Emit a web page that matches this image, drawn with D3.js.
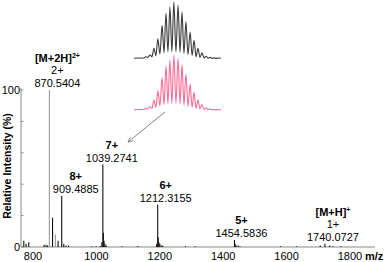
<!DOCTYPE html>
<html>
<head>
<meta charset="utf-8">
<script src="https://cdn.jsdelivr.net/npm/d3@7"></script>
<style>
  body { margin: 0; background: #fff; }
  svg { display: block; font-family: "Liberation Sans", Arial, sans-serif; }
</style>
</head>
<body>
<div id="d3"></div>
<script>
// stick spectrum (m/z, relative intensity %)
const peak_mz = [789.8, 797.0, 805.6, 853.8, 860.1, 864.9, 870.54, 880.5, 889.5, 898.0, 909.49, 916.0, 923.0, 931.0,
    1005.0, 1018.0, 1031.0, 1036.0, 1039.27, 1041.0, 1043.0, 1046.0, 1050.0, 1100.0, 1150.0,
    1209.0, 1212.32, 1214.0, 1216.0, 1219.0, 1223.0, 1228.0, 1300.0, 1330.0,
    1454.58, 1456.5, 1460.0, 1466.0, 1472.0, 1600.0, 1650.0, 1725.0, 1740.07, 1755.0, 1765.0, 1790.0];
const peak_int = [4, 2, 3, 1.5, 1.5, 1, 100, 18.7, 8, 4, 32.5, 2, 1, 1,
    0.5, 0.5, 0.7, 3, 52.5, 9, 4, 2, 1, 0.5, 0.7,
    2, 27, 6, 3, 2, 1, 1, 0.5, 0.5,
    4.5, 2, 1, 1, 0.5, 0.5, 0.5, 1, 2, 1, 0.5, 0.5];

// annotated ions
const ion_mz = [870.5404, 909.4885, 1039.2741, 1212.3155, 1454.5836, 1740.0727];
const ion_charge = ["2+", "8+", "7+", "6+", "5+", "1+"];
const ion_species = ["[M+2H]", null, null, null, null, "[M+H]"];
const ion_species_sup = ["2+", null, null, null, null, "+"];
const ion_label_dx = [8, 14, 9, 8, 7, 8];

// isotope envelope of the 7+ ion
const iso_mz = [1037.99, 1038.13, 1038.27, 1038.42, 1038.56, 1038.70, 1038.85, 1038.99, 1039.13, 1039.27, 1039.42,
    1039.56, 1039.70, 1039.85, 1039.99, 1040.13, 1040.27, 1040.42, 1040.56, 1040.70, 1040.85];
const iso_int = [1, 1, 3, 6, 18, 35, 59, 80, 91, 100, 94, 82, 65, 47, 32, 18, 10, 4, 2, 1, 1];
const iso_valley = [0.5, 1, 2, 3, 5, 8, 10, 12, 12, 12, 11, 9, 7, 5, 3, 2, 1, 0.5, 0.3, 0.3];

const x_ticks = [800, 1000, 1200, 1400, 1600, 1800];
const y_ticks = [0, 20, 40, 60, 80, 100];

const width = 390, height = 262;

const svg = d3.select("#d3").append("svg")
    .attr("width", width)
    .attr("height", height);

const x = d3.scaleLinear().domain([781, 1898]).range([21, 375]);
const y = d3.scaleLinear().domain([0, 100]).range([247, 90]);

// axes
svg.append("line")
    .attr("x1", x.range()[0]).attr("x2", x.range()[1])
    .attr("y1", y(0)).attr("y2", y(0))
    .attr("stroke", "#8a8a8a").attr("stroke-width", 1.2);
svg.append("line")
    .attr("x1", 21).attr("x2", 21)
    .attr("y1", y(0)).attr("y2", y(100) - 2)
    .attr("stroke", "#8a8a8a").attr("stroke-width", 1);

svg.selectAll(".ytick").data(y_ticks).enter().append("line")
    .attr("x1", 21).attr("x2", 23.5)
    .attr("y1", d => y(d)).attr("y2", d => y(d))
    .attr("stroke", "#8a8a8a");

svg.selectAll(".ylab").data([0, 100]).enter().append("text")
    .attr("x", 20).attr("y", d => y(d) + 4)
    .attr("text-anchor", "end")
    .attr("font-size", 11)
    .text(d => d);

svg.selectAll(".xlab").data(x_ticks).enter().append("text")
    .attr("x", d => x(d) + 6).attr("y", 260)
    .attr("text-anchor", "middle")
    .attr("font-size", 11)
    .text(d => d);

svg.append("text")
    .attr("x", 365).attr("y", 260)
    .attr("font-size", 11).attr("font-weight", "bold")
    .text("m/z");

svg.append("text")
    .attr("transform", "translate(11,166) rotate(-90)")
    .attr("text-anchor", "middle")
    .attr("font-size", 10.5).attr("font-weight", "bold")
    .text("Relative Intensity (%)");

// sticks
svg.selectAll(".stick").data(peak_mz).enter().append("line")
    .attr("x1", d => x(d)).attr("x2", d => x(d))
    .attr("y1", y(0))
    .attr("y2", (d, i) => y(peak_int[i]))
    .attr("stroke", d => (d === 870.54 || d === 889.5) ? "#999" : "#111")
    .attr("stroke-width", 1.1);

// ion labels
ion_mz.forEach((mz, i) => {
    const near = peak_mz.reduce((a, b) => Math.abs(b - mz) < Math.abs(a - mz) ? b : a);
    const top = y(peak_int[peak_mz.indexOf(near)]);
    const cx = x(mz) + ion_label_dx[i];
    const base = Math.min(top - 3, 238) + (i === 5 ? 3 : 0);
    svg.append("text")
        .attr("x", cx).attr("y", base)
        .attr("text-anchor", "middle").attr("font-size", 11)
        .text(mz.toFixed(4));
    svg.append("text")
        .attr("x", cx).attr("y", base - 13)
        .attr("text-anchor", "middle").attr("font-size", 11)
        .attr("font-weight", i === 0 || i === 5 ? "normal" : "bold")
        .text(ion_charge[i]);
    if (ion_species[i]) {
        const t = svg.append("text")
            .attr("x", cx).attr("y", base - 25)
            .attr("text-anchor", "middle").attr("font-size", 11)
            .attr("font-weight", "bold");
        t.append("tspan").text(ion_species[i]);
        t.append("tspan").attr("dy", -4).attr("font-size", 7).text(ion_species_sup[i]);
    }
});

// inset isotope envelopes
const xi = d3.scaleLinear().domain([1037.85, 1040.95]).range([134, 221]);
const profile = [{ mz: 1037.85, v: 0.5 }];
iso_mz.forEach((m, i) => {
    profile.push({ mz: m, v: iso_int[i] });
    if (i < iso_valley.length) profile.push({ mz: (m + iso_mz[i + 1]) / 2, v: iso_valley[i] });
});
profile.push({ mz: 1040.95, v: 0.3 });

function drawEnvelope(y0, y1, colour) {
    const yi = d3.scaleLinear().domain([0, 100]).range([y0, y1]);
    const line = d3.line().x(d => xi(d.mz)).y(d => yi(d.v)).curve(d3.curveMonotoneX);
    svg.append("path")
        .attr("d", line(profile))
        .attr("fill", "none")
        .attr("stroke", colour)
        .attr("stroke-width", 1.1);
}
drawEnvelope(58.5, 2, "#3a3a3a");
drawEnvelope(110, 55, "#ff6b98");

// arrow to 7+ peak
svg.append("defs").append("marker")
    .attr("id", "arr").attr("viewBox", "0 0 10 10")
    .attr("refX", 9).attr("refY", 5)
    .attr("markerWidth", 7).attr("markerHeight", 7)
    .attr("orient", "auto")
    .append("path")
    .attr("d", "M1,1 L9,5 L1,9")
    .attr("fill", "none").attr("stroke", "#777").attr("stroke-width", 1.2);

svg.append("line")
    .attr("x1", 165).attr("y1", 112)
    .attr("x2", 128).attr("y2", 142)
    .attr("stroke", "#777").attr("stroke-width", 0.9)
    .attr("marker-end", "url(#arr)");
</script>
</body>
</html>
